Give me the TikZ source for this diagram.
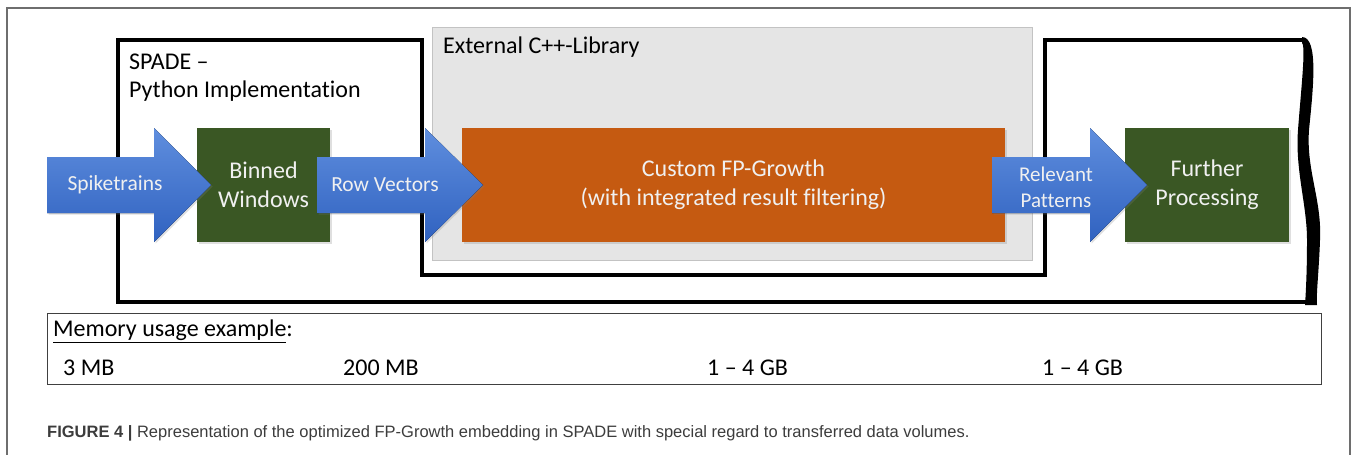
\documentclass[tikz,border=0pt]{standalone}
\usepackage{fontspec}
\setmainfont{Carlito}[Ligatures=NoCommon]
\newfontfamily\capfont{Liberation Sans}
\usetikzlibrary{shadows}
\definecolor{framegray}{RGB}{110,110,110}
\definecolor{extfill}{RGB}{229,229,229}
\definecolor{extdraw}{RGB}{195,195,195}
\definecolor{boxgreen}{RGB}{58,87,36}
\definecolor{boxorange}{RGB}{197,90,17}
\definecolor{bluetop}{RGB}{95,142,222}
\definecolor{bluebot}{RGB}{48,98,192}
\definecolor{captext}{RGB}{60,60,60}
\definecolor{boxtext}{RGB}{240,240,240}
\newcommand\blockarrow[3]{%
  \fill[top color=bluetop,bottom color=bluebot,drop shadow={shadow xshift=1.5pt,shadow yshift=-1.5pt,opacity=0.25}]
    (#1,157) -- (#2,157) -- (#2,128) -- (#3,185) -- (#2,242) -- (#2,213) -- (#1,213) -- cycle;}
\begin{document}
\begin{tikzpicture}[x=1pt,y=-1pt,
  txt/.style={font=\fontsize{24}{29}\selectfont,align=center,text=boxtext,inner sep=0},
  atxt/.style={font=\fontsize{21.5}{26}\selectfont,align=center,text=boxtext,inner sep=0},
  ltxt/.style={font=\fontsize{24}{29}\selectfont,align=left,anchor=west,inner sep=0},
  procbox/.style={draw=none,inner sep=0,drop shadow={shadow xshift=1.5pt,shadow yshift=-1.5pt,opacity=0.25}},
  memtxt/.style={font=\fontsize{24}{29}\selectfont,anchor=west,inner sep=0}]
\useasboundingbox (0,0) rectangle (1357,455);
% outer frame
\draw[framegray,line width=1.2pt] (7,470) -- (7,8) -- (1350,8) -- (1350,470);
% external library box
\node[fill=extfill,draw=extdraw,line width=1pt,minimum width=600pt,minimum height=233pt,inner sep=0] (ext) at (732,143.5) {};
\node[ltxt] (extlabel) at (443,47) {External C++-Library};
% thick outline of SPADE
\draw[line width=3.5pt,line join=miter] (1306,40) -- (1045,40) -- (1045,275) -- (422,275) -- (422,40) -- (118,40) -- (118,302) -- (1310,302);
\fill[black] (1302,37) .. controls (1319,37) and (1313,90) .. (1309,130)
   .. controls (1306,170) and (1322,200) .. (1320,240)
   .. controls (1319,270) and (1316,295) .. (1317,305)
   -- (1305,305) .. controls (1306,290) and (1307,270) .. (1307,240)
   .. controls (1307,205) and (1295,170) .. (1298,130)
   .. controls (1301,90) and (1306,46) .. (1302,43) -- cycle;
\node[ltxt] (spade1) at (129,62) {SPADE --};
\node[ltxt] (spade2) at (129,91) {Python Implementation};
% boxes
\node[procbox,fill=boxgreen,minimum width=133pt,minimum height=114pt] (binned) at (263.5,185) {};
\node[txt] at (binned.center) {Binned\\Windows};
\node[procbox,fill=boxorange,minimum width=543pt,minimum height=114pt] (fp) at (733.5,185) {};
\node[txt] at (fp.center) {Custom FP-Growth\\(with integrated result filtering)};
\node[procbox,fill=boxgreen,minimum width=164pt,minimum height=114pt] (further) at (1207,185) {};
\node[txt] at (further.center) {Further\\Processing};
% block arrows
\blockarrow{47}{154}{211}
\node[atxt] (spike) at (115,185) {Spiketrains};
\blockarrow{317}{425}{483}
\node[atxt] (rowvec) at (385,185) {Row Vectors};
\blockarrow{992}{1090}{1147}
\node[atxt,font=\fontsize{21}{26}\selectfont] (relpat) at (1056,187) {Relevant\\Patterns};
% memory box
\node[draw=black!75,line width=1pt,minimum width=1274pt,minimum height=71pt,inner sep=0] (mem) at (684,348.5) {};
\node[memtxt] (memtitle) at (53,331) {\underline{Memory usage example}:};
\node[memtxt] (m1) at (63,368) {3 MB};
\node[memtxt] (m2) at (343,368) {200 MB};
\node[memtxt] (m3) at (707,368) {1 -- 4 GB};
\node[memtxt] (m4) at (1042,368) {1 -- 4 GB};
% caption
\node[anchor=west,inner sep=0,text=captext,font=\capfont\fontsize{16.5}{19}\selectfont] (cap) at (47,433)
  {\textbf{FIGURE 4 |} Representation of the optimized FP-Growth embedding in SPADE with special regard to transferred data volumes.};
\end{tikzpicture}
\end{document}
